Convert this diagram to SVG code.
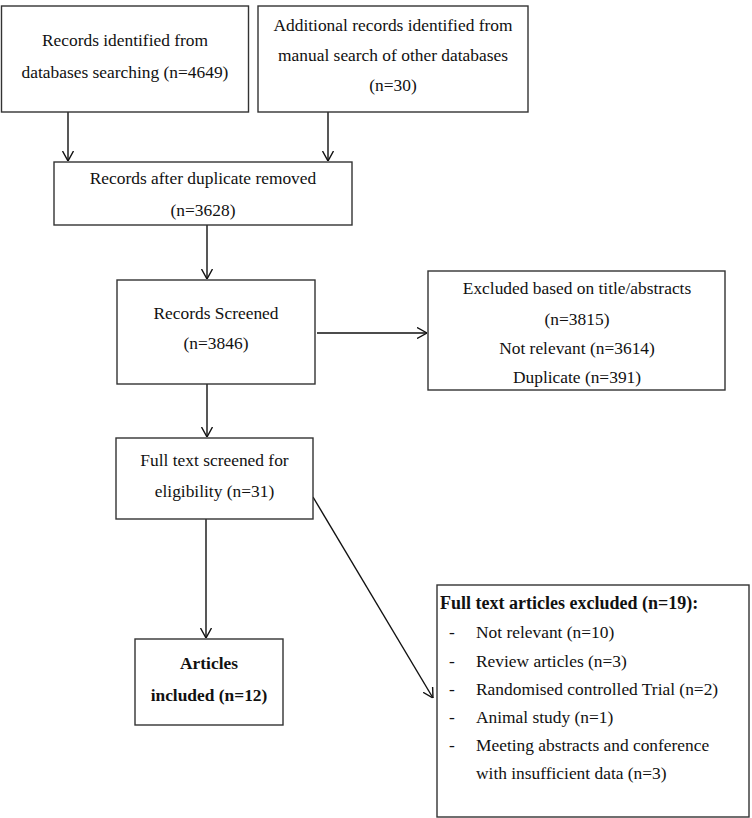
<svg xmlns="http://www.w3.org/2000/svg" width="752" height="818" viewBox="0 0 752 818">
<style>
.box{fill:#fff;stroke:#333;stroke-width:1.4}
.t{font-family:"Liberation Serif","Times New Roman",serif;font-size:17.4px;fill:#111;text-anchor:middle}
.tl{font-family:"Liberation Serif","Times New Roman",serif;font-size:17.4px;fill:#111}
.b{font-weight:bold}
.hd{font-size:18px}
.ln{stroke:#111;stroke-width:1.4;fill:none}
</style>
<defs>
<marker id="ah" viewBox="0 0 10 12" refX="10" refY="6" markerWidth="10" markerHeight="12" markerUnits="userSpaceOnUse" orient="auto">
<path d="M0,0.5 L10,6 L0,11.5" fill="none" stroke="#111" stroke-width="1.4"/>
</marker>
</defs>
<rect width="752" height="818" fill="#fff"/>
<g id="connectors">
<line class="ln" x1="68" y1="112" x2="68" y2="161" marker-end="url(#ah)"/>
<line class="ln" x1="328" y1="112" x2="328" y2="161" marker-end="url(#ah)"/>
<line class="ln" x1="207" y1="225" x2="207" y2="279" marker-end="url(#ah)"/>
<line class="ln" x1="317" y1="333" x2="427" y2="333" marker-end="url(#ah)"/>
<line class="ln" x1="207" y1="384" x2="207" y2="437" marker-end="url(#ah)"/>
<line class="ln" x1="206" y1="519" x2="206" y2="638" marker-end="url(#ah)"/>
<line class="ln" x1="313" y1="497" x2="433" y2="698" marker-end="url(#ah)"/>
</g>
<g id="n1">
<rect class="box" x="1.5" y="6" width="247" height="106"/>
<text class="t" x="125" y="46">Records identified from</text>
<text class="t" x="125" y="78">databases searching (n=4649)</text>
</g>
<g id="n2">
<rect class="box" x="258" y="6" width="270" height="106"/>
<text class="t" x="393" y="31">Additional records identified from</text>
<text class="t" x="393" y="61">manual search of other databases</text>
<text class="t" x="393" y="91">(n=30)</text>
</g>
<g id="n3">
<rect class="box" x="54" y="162" width="298" height="63"/>
<text class="t" x="203" y="184">Records after duplicate removed</text>
<text class="t" x="203" y="216">(n=3628)</text>
</g>
<g id="n4">
<rect class="box" x="117" y="280" width="198" height="104"/>
<text class="t" x="216" y="319">Records Screened</text>
<text class="t" x="216" y="349">(n=3846)</text>
</g>
<g id="n5">
<rect class="box" x="428" y="271" width="297" height="119"/>
<text class="t" x="577" y="294">Excluded based on title/abstracts</text>
<text class="t" x="577" y="325">(n=3815)</text>
<text class="t" x="577" y="354">Not relevant (n=3614)</text>
<text class="t" x="577" y="383">Duplicate (n=391)</text>
</g>
<g id="n6">
<rect class="box" x="116" y="438" width="197" height="81"/>
<text class="t" x="214.5" y="466">Full text screened for</text>
<text class="t" x="214.5" y="497">eligibility (n=31)</text>
</g>
<g id="n7">
<rect class="box" x="135" y="639" width="148" height="86"/>
<text class="t b" x="209" y="669">Articles</text>
<text class="t b" x="209" y="701">included (n=12)</text>
</g>
<g id="n8">
<rect class="box" x="437" y="585" width="312" height="232"/>
<text class="tl b hd" x="440" y="609">Full text articles excluded (n=19):</text>
<text class="tl" x="449" y="638">-</text><text class="tl" x="476" y="638">Not relevant (n=10)</text>
<text class="tl" x="449" y="667">-</text><text class="tl" x="476" y="667">Review articles (n=3)</text>
<text class="tl" x="449" y="695">-</text><text class="tl" x="476" y="695">Randomised controlled Trial (n=2)</text>
<text class="tl" x="449" y="723">-</text><text class="tl" x="476" y="723">Animal study (n=1)</text>
<text class="tl" x="449" y="751">-</text><text class="tl" x="476" y="751">Meeting abstracts and conference</text>
<text class="tl" x="476" y="779">with insufficient data (n=3)</text>
</g>
</svg>
